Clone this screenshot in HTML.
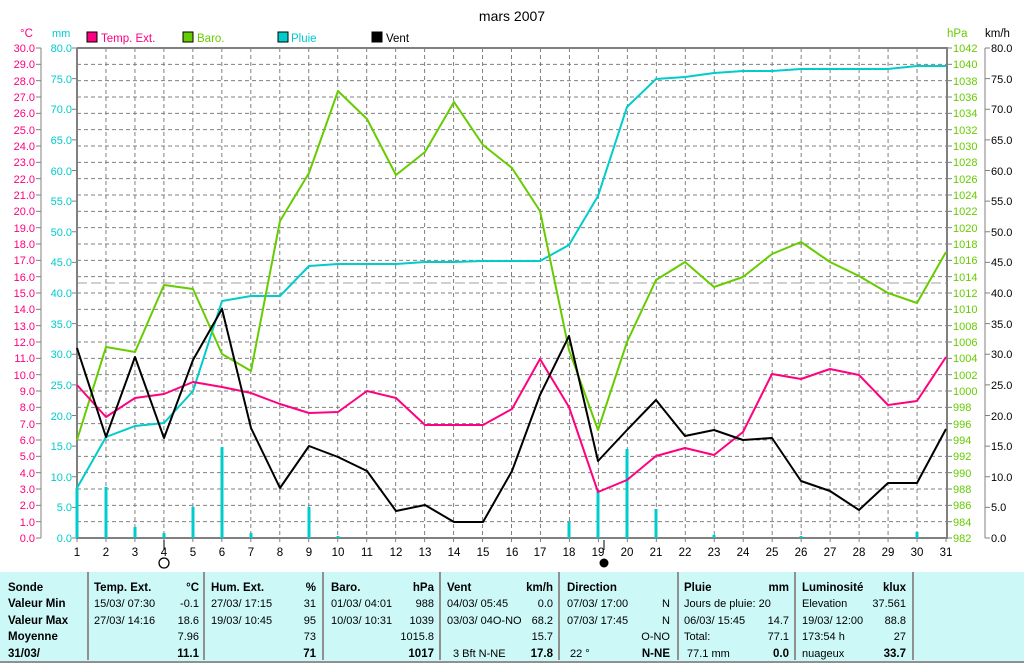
<!DOCTYPE html><html><head><meta charset="utf-8"><style>body{margin:0;background:#fff;width:1024px;height:664px;overflow:hidden}svg{font-family:"Liberation Sans",sans-serif;font-size:11.5px}</style></head><body>
<svg width="1024" height="664" viewBox="0 0 1024 664" xmlns="http://www.w3.org/2000/svg">
<text x="512" y="21" text-anchor="middle" font-size="14">mars 2007</text>
<g id="grid" stroke="#808080" stroke-dasharray="4,3" stroke-width="1"></g>
<line x1="77" y1="283" x2="946" y2="283" stroke="#a0a0a0" stroke-dasharray="10,4"/>
<g fill="none" stroke="#808080" stroke-width="2"><path d="M77 48V538H947V48H77"/></g>
<line x1="41" y1="48" x2="41" y2="538" stroke="#808080"/>
<line x1="985" y1="48" x2="985" y2="538" stroke="#808080"/>
<g id="ticks" stroke="#808080"></g>
<rect x="87" y="32" width="10" height="10" fill="#ff0080" stroke="#000"/><text x="101" y="42" fill="#ff0080">Temp. Ext.</text>
<rect x="183" y="32" width="10" height="10" fill="#66cc00" stroke="#000"/><text x="197" y="42" fill="#66cc00">Baro.</text>
<rect x="278" y="32" width="10" height="10" fill="#00cccc" stroke="#000"/><text x="291" y="42" fill="#00cccc">Pluie</text>
<rect x="372" y="32" width="10" height="10" fill="#000" stroke="#000"/><text x="386" y="42" fill="#000">Vent</text>
<text x="20" y="37" fill="#ff0080">°C</text><text x="52" y="37" fill="#00cccc" font-size="11">mm</text>
<text x="947" y="37" fill="#66cc00">hPa</text><text x="985" y="37">km/h</text>
<g fill="#ff0080" text-anchor="end" font-size="11">
<text x="35" y="52">30.0</text><text x="35" y="68">29.0</text><text x="35" y="85">28.0</text><text x="35" y="101">27.0</text><text x="35" y="117">26.0</text><text x="35" y="134">25.0</text><text x="35" y="150">24.0</text><text x="35" y="166">23.0</text><text x="35" y="183">22.0</text><text x="35" y="199">21.0</text><text x="35" y="215">20.0</text><text x="35" y="232">19.0</text><text x="35" y="248">18.0</text><text x="35" y="264">17.0</text><text x="35" y="281">16.0</text><text x="35" y="297">15.0</text><text x="35" y="313">14.0</text><text x="35" y="330">13.0</text><text x="35" y="346">12.0</text><text x="35" y="362">11.0</text><text x="35" y="379">10.0</text><text x="35" y="395">9.0</text><text x="35" y="411">8.0</text><text x="35" y="428">7.0</text><text x="35" y="444">6.0</text><text x="35" y="460">5.0</text><text x="35" y="477">4.0</text><text x="35" y="493">3.0</text><text x="35" y="509">2.0</text><text x="35" y="526">1.0</text><text x="35" y="542">0.0</text></g>
<g fill="#00cccc" text-anchor="end" font-size="11">
<text x="72" y="52">80.0</text><text x="72" y="83">75.0</text><text x="72" y="113">70.0</text><text x="72" y="144">65.0</text><text x="72" y="175">60.0</text><text x="72" y="205">55.0</text><text x="72" y="236">50.0</text><text x="72" y="266">45.0</text><text x="72" y="297">40.0</text><text x="72" y="328">35.0</text><text x="72" y="358">30.0</text><text x="72" y="389">25.0</text><text x="72" y="420">20.0</text><text x="72" y="450">15.0</text><text x="72" y="481">10.0</text><text x="72" y="511">5.0</text><text x="72" y="542">0.0</text></g>
<g fill="#66cc00" font-size="11">
<text x="953" y="52">1042</text><text x="953" y="68">1040</text><text x="953" y="85">1038</text><text x="953" y="101">1036</text><text x="953" y="117">1034</text><text x="953" y="134">1032</text><text x="953" y="150">1030</text><text x="953" y="166">1028</text><text x="953" y="183">1026</text><text x="953" y="199">1024</text><text x="953" y="215">1022</text><text x="953" y="232">1020</text><text x="953" y="248">1018</text><text x="953" y="264">1016</text><text x="953" y="281">1014</text><text x="953" y="297">1012</text><text x="953" y="313">1010</text><text x="953" y="330">1008</text><text x="953" y="346">1006</text><text x="953" y="362">1004</text><text x="953" y="379">1002</text><text x="953" y="395">1000</text><text x="953" y="411">998</text><text x="953" y="428">996</text><text x="953" y="444">994</text><text x="953" y="460">992</text><text x="953" y="477">990</text><text x="953" y="493">988</text><text x="953" y="509">986</text><text x="953" y="526">984</text><text x="953" y="542">982</text></g>
<g fill="#000" font-size="11">
<text x="991" y="52">80.0</text><text x="991" y="83">75.0</text><text x="991" y="113">70.0</text><text x="991" y="144">65.0</text><text x="991" y="175">60.0</text><text x="991" y="205">55.0</text><text x="991" y="236">50.0</text><text x="991" y="266">45.0</text><text x="991" y="297">40.0</text><text x="991" y="328">35.0</text><text x="991" y="358">30.0</text><text x="991" y="389">25.0</text><text x="991" y="420">20.0</text><text x="991" y="450">15.0</text><text x="991" y="481">10.0</text><text x="991" y="511">5.0</text><text x="991" y="542">0.0</text></g>
<g text-anchor="middle">
<text x="77" y="556">1</text><text x="106" y="556">2</text><text x="135" y="556">3</text><text x="164" y="556">4</text><text x="193" y="556">5</text><text x="222" y="556">6</text><text x="251" y="556">7</text><text x="280" y="556">8</text><text x="309" y="556">9</text><text x="338" y="556">10</text><text x="367" y="556">11</text><text x="396" y="556">12</text><text x="425" y="556">13</text><text x="454" y="556">14</text><text x="483" y="556">15</text><text x="512" y="556">16</text><text x="540" y="556">17</text><text x="569" y="556">18</text><text x="598" y="556">19</text><text x="627" y="556">20</text><text x="656" y="556">21</text><text x="685" y="556">22</text><text x="714" y="556">23</text><text x="743" y="556">24</text><text x="772" y="556">25</text><text x="801" y="556">26</text><text x="830" y="556">27</text><text x="859" y="556">28</text><text x="888" y="556">29</text><text x="917" y="556">30</text><text x="946" y="556">31</text></g>
<line x1="164" y1="540" x2="164" y2="550" stroke="#000"/><circle cx="164" cy="563" r="5" fill="none" stroke="#000" stroke-width="1.3"/>
<line x1="604" y1="540" x2="604" y2="550" stroke="#000"/><circle cx="604" cy="563" r="4.5" fill="#000"/>
<g stroke="#00cccc" stroke-width="3">
<path d="M77 538V488M106 538V487M135 538V527M164 538V533M193 538V507M222 538V447M251 538V533M309 538V507M338 538V536M569 538V522M598 538V490M627 538V449M656 538V509M714 538V535M801 538V536M917 538V532"/></g>
<g fill="none" stroke-width="2" stroke-linejoin="round">
<polyline stroke="#00cccc" points="77,488 106,437 135,426 164,423 193,391 222,301 251,296 280,296 309,266 338,264 367,264 396,264 425,262 454,262 483,261 512,261 540,261 569,245 598,196 627,107 656,79 685,77 714,73 743,71 772,71 801,69 830,69 859,69 888,69 917,66 946,66"/>
<polyline stroke="#66cc00" points="77,440 106,347 135,352 164,285 193,289 222,354 251,371 280,221 309,173 338,91 367,119 396,175 425,152 454,102 483,145 512,168 540,211 569,350 598,430 627,342 656,280 685,262 714,287 743,277 772,254 801,242 830,262 859,276 888,293 917,303 946,252"/>
<polyline stroke="#ff0080" points="77,385 106,417 135,398 164,394 193,382 222,387 251,393 280,404 309,413 338,412 367,391 396,398 425,425 454,425 483,425 512,409 540,359 569,407 598,492 627,480 656,456 685,448 714,455 743,432 772,374 801,379 830,369 859,375 888,405 917,401 946,357"/>
<polyline stroke="#000" points="77,348 106,437 135,357 164,438 193,360 222,309 251,428 280,488 309,446 338,457 367,471 396,511 425,505 454,522 483,522 512,471 540,395 569,336 598,461 627,430 656,400 685,436 714,430 743,440 772,438 801,481 830,491 859,510 888,483 917,483 946,429"/>
</g>
<rect x="0" y="572" width="1024" height="90" fill="#ccf8f8"/>
<line x1="0" y1="662" x2="1024" y2="662" stroke="#909090" stroke-width="2"/>
<g stroke="#909090" stroke-width="2"><path d="M88 572V660M204 572V660M323 572V660M440 572V660M559 572V660M678 572V660M795 572V660M913 572V660"/></g>
<g font-weight="bold" font-size="11.5"><text x="8" y="591">Sonde</text><text x="8" y="607">Valeur Min</text><text x="8" y="624">Valeur Max</text><text x="8" y="640">Moyenne</text><text x="8" y="657">31/03/</text>
<text x="94" y="591">Temp. Ext.</text><text x="211" y="591">Hum. Ext.</text><text x="331" y="591">Baro.</text><text x="447" y="591">Vent</text><text x="567" y="591">Direction</text><text x="684" y="591">Pluie</text><text x="802" y="591">Luminosité</text></g>
<g font-weight="bold" text-anchor="end" font-size="11.5"><text x="199" y="591">°C</text><text x="316" y="591">%</text><text x="434" y="591">hPa</text><text x="553" y="591">km/h</text><text x="789" y="591">mm</text><text x="906" y="591">klux</text>
<text x="199" y="657">11.1</text><text x="316" y="657">71</text><text x="434" y="657">1017</text><text x="553" y="657">17.8</text><text x="670" y="657">N-NE</text><text x="789" y="657">0.0</text><text x="906" y="657">33.7</text></g>
<g font-size="11"><text x="94" y="607">15/03/  07:30</text><text x="94" y="624">27/03/  14:16</text>
<text x="211" y="607">27/03/  17:15</text><text x="211" y="624">19/03/  10:45</text>
<text x="331" y="607">01/03/  04:01</text><text x="331" y="624">10/03/  10:31</text>
<text x="447" y="607">04/03/  05:45</text><text x="447" y="624">03/03/  04O-NO</text><text x="453" y="657">3 Bft N-NE</text>
<text x="567" y="607">07/03/  17:00</text><text x="567" y="624">07/03/  17:45</text><text x="570" y="657">22 °</text>
<text x="684" y="607">Jours de pluie: 20</text><text x="684" y="624">06/03/  15:45</text><text x="684" y="640">Total:</text><text x="687" y="657">77.1 mm</text>
<text x="802" y="607">Elevation</text><text x="802" y="624">19/03/  12:00</text><text x="802" y="640">173:54 h</text><text x="802" y="657">nuageux</text></g>
<g font-size="11" text-anchor="end"><text x="199" y="607">-0.1</text><text x="199" y="624">18.6</text><text x="199" y="640">7.96</text>
<text x="316" y="607">31</text><text x="316" y="624">95</text><text x="316" y="640">73</text>
<text x="434" y="607">988</text><text x="434" y="624">1039</text><text x="434" y="640">1015.8</text>
<text x="553" y="607">0.0</text><text x="553" y="624">68.2</text><text x="553" y="640">15.7</text>
<text x="670" y="607">N</text><text x="670" y="624">N</text><text x="670" y="640">O-NO</text>
<text x="789" y="624">14.7</text><text x="789" y="640">77.1</text>
<text x="906" y="607">37.561</text><text x="906" y="624">88.8</text><text x="906" y="640">27</text></g>
</svg>
<script>
var ns="http://www.w3.org/2000/svg",g=document.getElementById("grid"),t=document.getElementById("ticks");
function L(p,a,b,c,d){var l=document.createElementNS(ns,"line");l.setAttribute("x1",a);l.setAttribute("y1",b);l.setAttribute("x2",c);l.setAttribute("y2",d);p.appendChild(l);}
for(var i=1;i<30;i++){var y=48+i*490/30;L(g,77,y,946,y);}
for(var d=1;d<30;d++){var x=77+d*869/30;L(g,x,48,x,538);}
for(var i=0;i<=30;i++){var y=48+i*490/30;L(t,36,y,41,y);L(t,947,y,952,y);}
for(var k=0;k<=16;k++){var y=48+k*490/16;L(t,72,y,77,y);L(t,985,y,990,y);}
for(var d=0;d<=30;d++){var x=77+d*869/30;L(t,x,538,x,542);}
</script>
</body></html>
